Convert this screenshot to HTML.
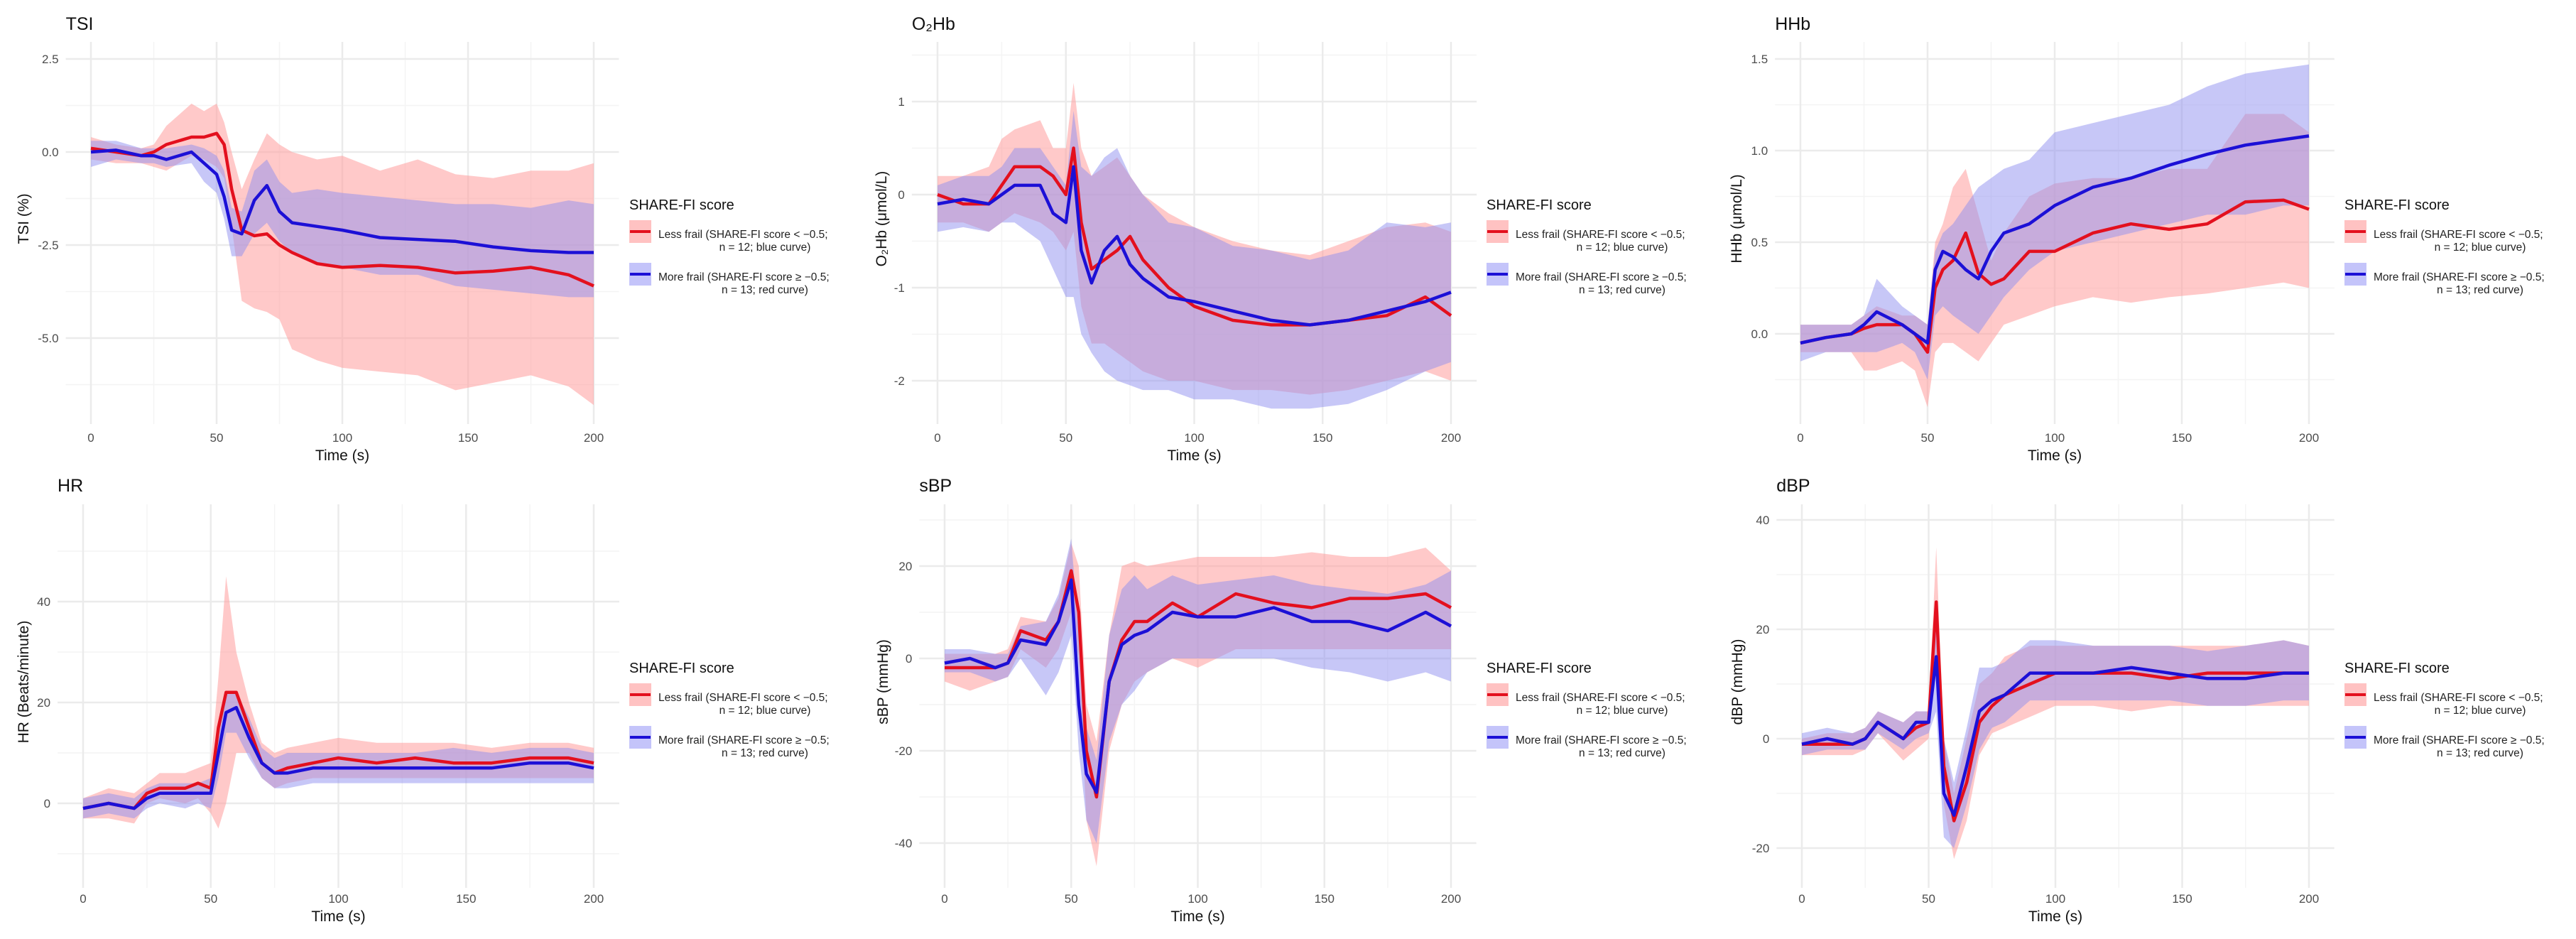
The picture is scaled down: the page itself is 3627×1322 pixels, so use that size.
<!DOCTYPE html>
<html><head><meta charset="utf-8">
<style>
html,body{margin:0;padding:0;background:#fff;}
svg{display:block;font-family:"Liberation Sans",sans-serif;}
</style></head>
<body>
<svg id="fig" width="3627" height="1322" viewBox="0 0 3627 1322" xmlns="http://www.w3.org/2000/svg"></svg>
<script>
// shared time points (s)
const times = [0,10,20,25,30,40,45,50,53,56,60,65,70,75,80,90,100,115,130,145,160,175,190,200];
const xTicks = [0,50,100,150,200];

// TSI
const tsiTicks = [2.5,0,-2.5,-5];
const tsiTickLabels = ["2.5","0.0","-2.5","-5.0"];
const tsiRed = [0.1,0,-0.1,0,0.2,0.4,0.4,0.5,0.2,-1.0,-2.1,-2.25,-2.2,-2.5,-2.7,-3.0,-3.1,-3.05,-3.1,-3.25,-3.2,-3.1,-3.3,-3.6];
const tsiBlue = [0,0.05,-0.1,-0.1,-0.2,0,-0.3,-0.6,-1.2,-2.1,-2.2,-1.3,-0.9,-1.6,-1.9,-2.0,-2.1,-2.3,-2.35,-2.4,-2.55,-2.65,-2.7,-2.7];
const tsiRedHi = [0.4,0.2,0.1,0.2,0.7,1.3,1.1,1.3,0.8,0.0,-1.0,-0.2,0.5,0.2,0.0,-0.2,-0.1,-0.5,-0.2,-0.6,-0.7,-0.5,-0.5,-0.3];
const tsiRedLo = [-0.2,-0.3,-0.3,-0.4,-0.5,-0.1,-0.2,-0.4,-0.7,-2.0,-4.0,-4.2,-4.3,-4.5,-5.3,-5.6,-5.8,-5.9,-6.0,-6.4,-6.2,-6.0,-6.3,-6.8];
const tsiBlueHi = [0.3,0.3,0.1,0.1,0.1,0.2,0.1,-0.1,-0.5,-1.5,-1.6,-0.5,-0.2,-0.8,-1.1,-1.0,-1.1,-1.2,-1.3,-1.4,-1.4,-1.5,-1.3,-1.4];
const tsiBlueLo = [-0.4,-0.2,-0.3,-0.3,-0.4,-0.3,-0.8,-1.1,-1.8,-2.8,-2.8,-2.2,-1.9,-2.4,-2.7,-3.0,-3.1,-3.3,-3.3,-3.6,-3.7,-3.8,-3.9,-3.9];

// O2Hb
const o2Ticks = [1,0,-1,-2];
const o2TickLabels = ["1","0","-1","-2"];
const o2Red = [0,-0.1,-0.1,0.1,0.3,0.3,0.2,0,0.5,-0.3,-0.8,-0.7,-0.6,-0.45,-0.7,-1.0,-1.2,-1.35,-1.4,-1.4,-1.35,-1.3,-1.1,-1.3];
const o2Blue = [-0.1,-0.05,-0.1,0,0.1,0.1,-0.2,-0.3,0.3,-0.6,-0.95,-0.6,-0.45,-0.75,-0.9,-1.1,-1.15,-1.25,-1.35,-1.4,-1.35,-1.25,-1.15,-1.05];
const o2RedHi = [0.2,0.2,0.3,0.6,0.7,0.8,0.5,0.5,1.2,0.5,0.2,0.3,0.4,0.2,0.0,-0.2,-0.35,-0.5,-0.6,-0.65,-0.5,-0.35,-0.3,-0.4];
const o2RedLo = [-0.3,-0.3,-0.4,-0.3,-0.2,-0.3,-0.4,-0.6,-0.4,-1.2,-1.6,-1.6,-1.7,-1.8,-1.9,-2.0,-2.0,-2.1,-2.1,-2.15,-2.1,-2.0,-1.9,-2.0];
const o2BlueHi = [0.1,0.2,0.2,0.3,0.5,0.5,0.3,0.1,0.9,0.3,0.2,0.4,0.5,0.2,0.0,-0.3,-0.35,-0.55,-0.6,-0.7,-0.6,-0.3,-0.35,-0.3];
const o2BlueLo = [-0.4,-0.35,-0.4,-0.3,-0.3,-0.5,-0.8,-1.1,-1.1,-1.5,-1.7,-1.9,-2.0,-2.05,-2.1,-2.1,-2.2,-2.2,-2.3,-2.3,-2.25,-2.1,-1.9,-1.8];

// HHb
const hhTicks = [1.5,1.0,0.5,0.0];
const hhTickLabels = ["1.5","1.0","0.5","0.0"];
const hhRed = [-0.05,-0.02,0,0.03,0.05,0.05,0.0,-0.1,0.25,0.35,0.4,0.55,0.33,0.27,0.3,0.45,0.45,0.55,0.6,0.57,0.6,0.72,0.73,0.68];
const hhBlue = [-0.05,-0.02,0,0.05,0.12,0.05,0.0,-0.05,0.35,0.45,0.42,0.35,0.3,0.45,0.55,0.6,0.7,0.8,0.85,0.92,0.98,1.03,1.06,1.08];
const hhRedHi = [0.05,0.05,0.05,0.1,0.15,0.1,0.1,0.05,0.5,0.6,0.8,0.9,0.65,0.4,0.55,0.75,0.82,0.85,0.85,0.9,0.9,1.2,1.2,1.1];
const hhRedLo = [-0.1,-0.1,-0.1,-0.2,-0.2,-0.15,-0.2,-0.4,-0.1,-0.05,-0.05,-0.1,-0.15,-0.05,0.05,0.1,0.15,0.2,0.17,0.2,0.22,0.25,0.28,0.25];
const hhBlueHi = [0.05,0.05,0.05,0.1,0.3,0.15,0.1,0.05,0.45,0.55,0.6,0.7,0.8,0.85,0.9,0.95,1.1,1.15,1.2,1.25,1.35,1.42,1.45,1.47];
const hhBlueLo = [-0.15,-0.1,-0.1,-0.1,-0.1,-0.05,-0.1,-0.25,0.1,0.15,0.1,0.05,0.0,0.1,0.2,0.35,0.45,0.5,0.55,0.6,0.65,0.65,0.7,0.7];

// HR
const hrTicks = [40,20,0];
const hrTickLabels = ["40","20","0"];
const hrRed = [-1,0,-1,2,3,3,4,3,15,22,22,15,8,6,7,8,9,8,9,8,8,9,9,8];
const hrBlue = [-1,0,-1,1,2,2,2,2,10,18,19,13,8,6,6,7,7,7,7,7,7,8,8,7];
const hrRedHi = [1,3,2,4,6,6,7,8,25,45,30,20,12,10,11,12,13,12,12,12,11,12,12,11];
const hrRedLo = [-3,-3,-4,0,1,0,1,-2,-5,0,10,10,5,3,4,5,5,5,5,5,5,5,5,5];
const hrBlueHi = [1,2,1,3,4,4,4,5,15,22,22,17,11,9,10,10,10,10,10,11,10,11,11,10];
const hrBlueLo = [-3,-2,-3,-1,0,-1,0,-1,5,14,14,9,5,3,3,4,4,4,4,4,4,4,4,4];

// sBP
const sbpTicks = [20,0,-20,-40];
const sbpTickLabels = ["20","0","-20","-40"];
const sbpRed = [-2,-2,-2,-1,6,4,8,19,10,-20,-30,-5,4,8,8,12,9,14,12,11,13,13,14,11];
const sbpBlue = [-1,0,-2,-1,4,3,8,17,-10,-25,-29,-5,3,5,6,10,9,9,11,8,8,6,10,7];
const sbpRedHi = [1,1,1,2,9,8,13,25,20,-10,-18,5,20,21,20,21,22,22,22,23,22,22,24,19];
const sbpRedLo = [-5,-7,-5,-4,2,-2,2,10,0,-35,-45,-20,-10,-5,-3,0,-2,2,2,2,2,2,2,2];
const sbpBlueHi = [2,2,1,1,7,8,14,26,5,-15,-22,5,15,18,15,18,16,17,18,16,15,14,16,19];
const sbpBlueLo = [-3,-3,-5,-4,0,-8,-3,5,-20,-35,-40,-18,-10,-7,-3,0,0,0,0,-2,-3,-5,-3,-5];

// dBP
const dbpTicks = [40,20,0,-20];
const dbpTickLabels = ["40","20","0","-20"];
const dbpRed = [-1,-1,-1,0,3,0,2,3,25,-5,-15,-8,3,6,8,10,12,12,12,11,12,12,12,12];
const dbpBlue = [-1,0,-1,0,3,0,3,3,15,-10,-14,-5,5,7,8,12,12,12,13,12,11,11,12,12];
const dbpRedHi = [0,1,1,2,5,3,5,5,35,0,-10,0,10,12,15,17,17,17,17,17,17,17,18,17];
const dbpRedLo = [-3,-3,-3,-2,1,-4,-2,0,15,-12,-22,-15,-3,1,2,4,6,6,5,6,6,6,6,6];
const dbpBlueHi = [1,2,1,2,5,3,5,5,25,0,-8,2,13,13,14,18,18,17,17,17,16,17,18,17];
const dbpBlueLo = [-3,-2,-2,-2,1,-2,0,1,5,-18,-20,-12,-2,2,3,7,7,7,7,7,6,6,7,7];

const NS = "http://www.w3.org/2000/svg";
const svg = document.getElementById('fig');
function mk(tag, attrs, parent) {
  const e = document.createElementNS(NS, tag);
  for (const k in attrs) e.setAttribute(k, attrs[k]);
  (parent || svg).appendChild(e);
  return e;
}

function panel(cfg) {
  const g = mk('g', {});
  
  
  const x = v => cfg.x0 + (cfg.x200 - cfg.x0) * v / 200;
  const t0 = cfg.ticks[0], t1 = cfg.ticks[1];
  const ppu = (cfg.tickPx[1] - cfg.tickPx[0]) / (t1 - t0);
  const y = v => cfg.tickPx[0] + (v - t0) * ppu;
  const left = x(-10), right = x(210);
  // minor vertical grid
  for (let v = 25; v <= 175; v += 50) {
    const l = mk('line', {x1:x(v), x2:x(v), y1:cfg.top, y2:cfg.bottom, stroke:'#f4f4f4', 'stroke-width':1.5}, g);
    
    
  }
  // horizontal grid
  const step = t0 - t1;
  const hs = step / 2;
  for (let v = t0 + hs * 4; v >= cfg.ticks[cfg.ticks.length - 1] - hs * 4; v -= hs) {
    const py = y(v);
    if (py < cfg.top || py > cfg.bottom) continue;
    const major = cfg.ticks.some(t => Math.abs(t - v) < 1e-9);
    const l = mk('line', {x1:left, x2:right, y1:py, y2:py, stroke: major ? '#ebebeb' : '#f4f4f4', 'stroke-width': major ? 2.5 : 1.5}, g);
    
    
  }
  xTicks.forEach(v => {
    const l = mk('line', {x1:x(v), x2:x(v), y1:cfg.top, y2:cfg.bottom, stroke:'#ebebeb', 'stroke-width':2.5}, g);
    
    
    const tx = mk('text', {x:x(v), y:cfg.xLabelY, 'text-anchor':'middle', 'font-size':17, fill:'#4d4d4d'}, g);
    tx.textContent = String(v);
    
    
  });
  cfg.ticks.forEach((v, i) => {
    const tx = mk('text', {x:left - 10, y:y(v) + 6, 'text-anchor':'end', 'font-size':17, fill:'#4d4d4d'}, g);
    tx.textContent = cfg.tickLabels[i];
    
    
  });
  // ribbons
  function ribbon(hi, lo, fill, op, nm) {
    let d = '';
    times.forEach((t, i) => { d += (i ? 'L' : 'M') + x(t).toFixed(1) + ' ' + y(hi[i]).toFixed(1); });
    for (let i = times.length - 1; i >= 0; i--) d += 'L' + x(times[i]).toFixed(1) + ' ' + y(lo[i]).toFixed(1);
    const p = mk('path', {d: d + 'Z', fill: fill, 'fill-opacity': op}, g);
    
    
  }
  ribbon(cfg.redHi, cfg.redLo, '#ff9c9c', 0.55, 'less-frail-ribbon');
  ribbon(cfg.blueHi, cfg.blueLo, '#8f8ff0', 0.5, 'more-frail-ribbon');
  function line(vals, col, nm) {
    let d = '';
    times.forEach((t, i) => { d += (i ? 'L' : 'M') + x(t).toFixed(1) + ' ' + y(vals[i]).toFixed(1); });
    const p = mk('path', {d: d, fill:'none', stroke: col, 'stroke-width': 4.5, 'stroke-linejoin':'round'}, g);
    
    
  }
  line(cfg.red, '#e3101e', 'less-frail-line');
  line(cfg.blue, '#1c10d6', 'more-frail-line');
  // titles
  const tt = mk('text', {x:left, y:cfg.titleY, 'font-size':25, fill:'#111'}, g);
  tt.textContent = cfg.title;
  
  
  const xt = mk('text', {x:x(100), y:cfg.xTitleY, 'text-anchor':'middle', 'font-size':21, fill:'#111'}, g);
  xt.textContent = 'Time (s)';
  
  
  const yc = (cfg.top + cfg.bottom) / 2 - 20;
  const yt = mk('text', {x:cfg.yTitleX, y:yc, 'text-anchor':'middle', 'font-size':21, fill:'#111', transform:'rotate(-90 ' + cfg.yTitleX + ' ' + yc + ')'}, g);
  yt.textContent = cfg.yTitle;
  
  
  // legend
  const lx = cfg.x200 + 50, ly = cfg.legendY;
  const lg = mk('g', {}, g);
  
  
  const lt = mk('text', {x:lx, y:ly, 'font-size':20, fill:'#111'}, lg);
  lt.textContent = 'SHARE-FI score';
  
  
  const entries = [
    ['Less frail (SHARE-FI score < \u22120.5;', 'n = 12; blue curve)', '#ffc2c2', '#e3101e', 'legend-entry-less-frail'],
    ['More frail (SHARE-FI score \u2265 \u22120.5;', 'n = 13; red curve)', '#c4c4fa', '#1c10d6', 'legend-entry-more-frail']
  ];
  entries.forEach((e, i) => {
    const eg = mk('g', {}, lg);
    
    
    const ky = ly + 15 + i * 60;
    mk('rect', {x:lx, y:ky, width:31, height:32, fill:e[2]}, eg);
    mk('line', {x1:lx + 1, x2:lx + 30, y1:ky + 16, y2:ky + 16, stroke:e[3], 'stroke-width':4}, eg);
    const a = mk('text', {x:lx + 41, y:ky + 25, 'font-size':15.5, fill:'#222'}, eg);
    a.textContent = e[0];
    const b = mk('text', {x:lx + 191, y:ky + 43, 'text-anchor':'middle', 'font-size':15.5, fill:'#222'}, eg);
    b.textContent = e[1];
  });
}

const row1 = {top:59, bottom:597, xLabelY:622, xTitleY:648, titleY:42, legendY:295};
const row2 = {top:710, bottom:1250, xLabelY:1271, xTitleY:1297, titleY:692, legendY:947};

panel(Object.assign({name:'tsi', title:'TSI', yTitle:'TSI (%)', x0:128, x200:836, ticks:tsiTicks, tickLabels:tsiTickLabels, tickPx:[83,214], yTitleX:40,
  red:tsiRed, blue:tsiBlue, redHi:tsiRedHi, redLo:tsiRedLo, blueHi:tsiBlueHi, blueLo:tsiBlueLo}, row1));
panel(Object.assign({name:'o2hb', title:'O\u2082Hb', yTitle:'O\u2082Hb (\u03bcmol/L)', x0:1320, x200:2043, ticks:o2Ticks, tickLabels:o2TickLabels, tickPx:[143,274], yTitleX:1248,
  red:o2Red, blue:o2Blue, redHi:o2RedHi, redLo:o2RedLo, blueHi:o2BlueHi, blueLo:o2BlueLo}, row1));
panel(Object.assign({name:'hhb', title:'HHb', yTitle:'HHb (\u03bcmol/L)', x0:2535, x200:3251, ticks:hhTicks, tickLabels:hhTickLabels, tickPx:[83,212], yTitleX:2452,
  red:hhRed, blue:hhBlue, redHi:hhRedHi, redLo:hhRedLo, blueHi:hhBlueHi, blueLo:hhBlueLo}, row1));
panel(Object.assign({name:'hr', title:'HR', yTitle:'HR (Beats/minute)', x0:117, x200:836, ticks:hrTicks, tickLabels:hrTickLabels, tickPx:[847,989], yTitleX:40,
  red:hrRed, blue:hrBlue, redHi:hrRedHi, redLo:hrRedLo, blueHi:hrBlueHi, blueLo:hrBlueLo}, row2));
panel(Object.assign({name:'sbp', title:'sBP', yTitle:'sBP (mmHg)', x0:1330, x200:2043, ticks:sbpTicks, tickLabels:sbpTickLabels, tickPx:[797,927], yTitleX:1250,
  red:sbpRed, blue:sbpBlue, redHi:sbpRedHi, redLo:sbpRedLo, blueHi:sbpBlueHi, blueLo:sbpBlueLo}, row2));
panel(Object.assign({name:'dbp', title:'dBP', yTitle:'dBP (mmHg)', x0:2537, x200:3251, ticks:dbpTicks, tickLabels:dbpTickLabels, tickPx:[732,886], yTitleX:2453,
  red:dbpRed, blue:dbpBlue, redHi:dbpRedHi, redLo:dbpRedLo, blueHi:dbpBlueHi, blueLo:dbpBlueLo}, row2));
</script>
</body></html>
